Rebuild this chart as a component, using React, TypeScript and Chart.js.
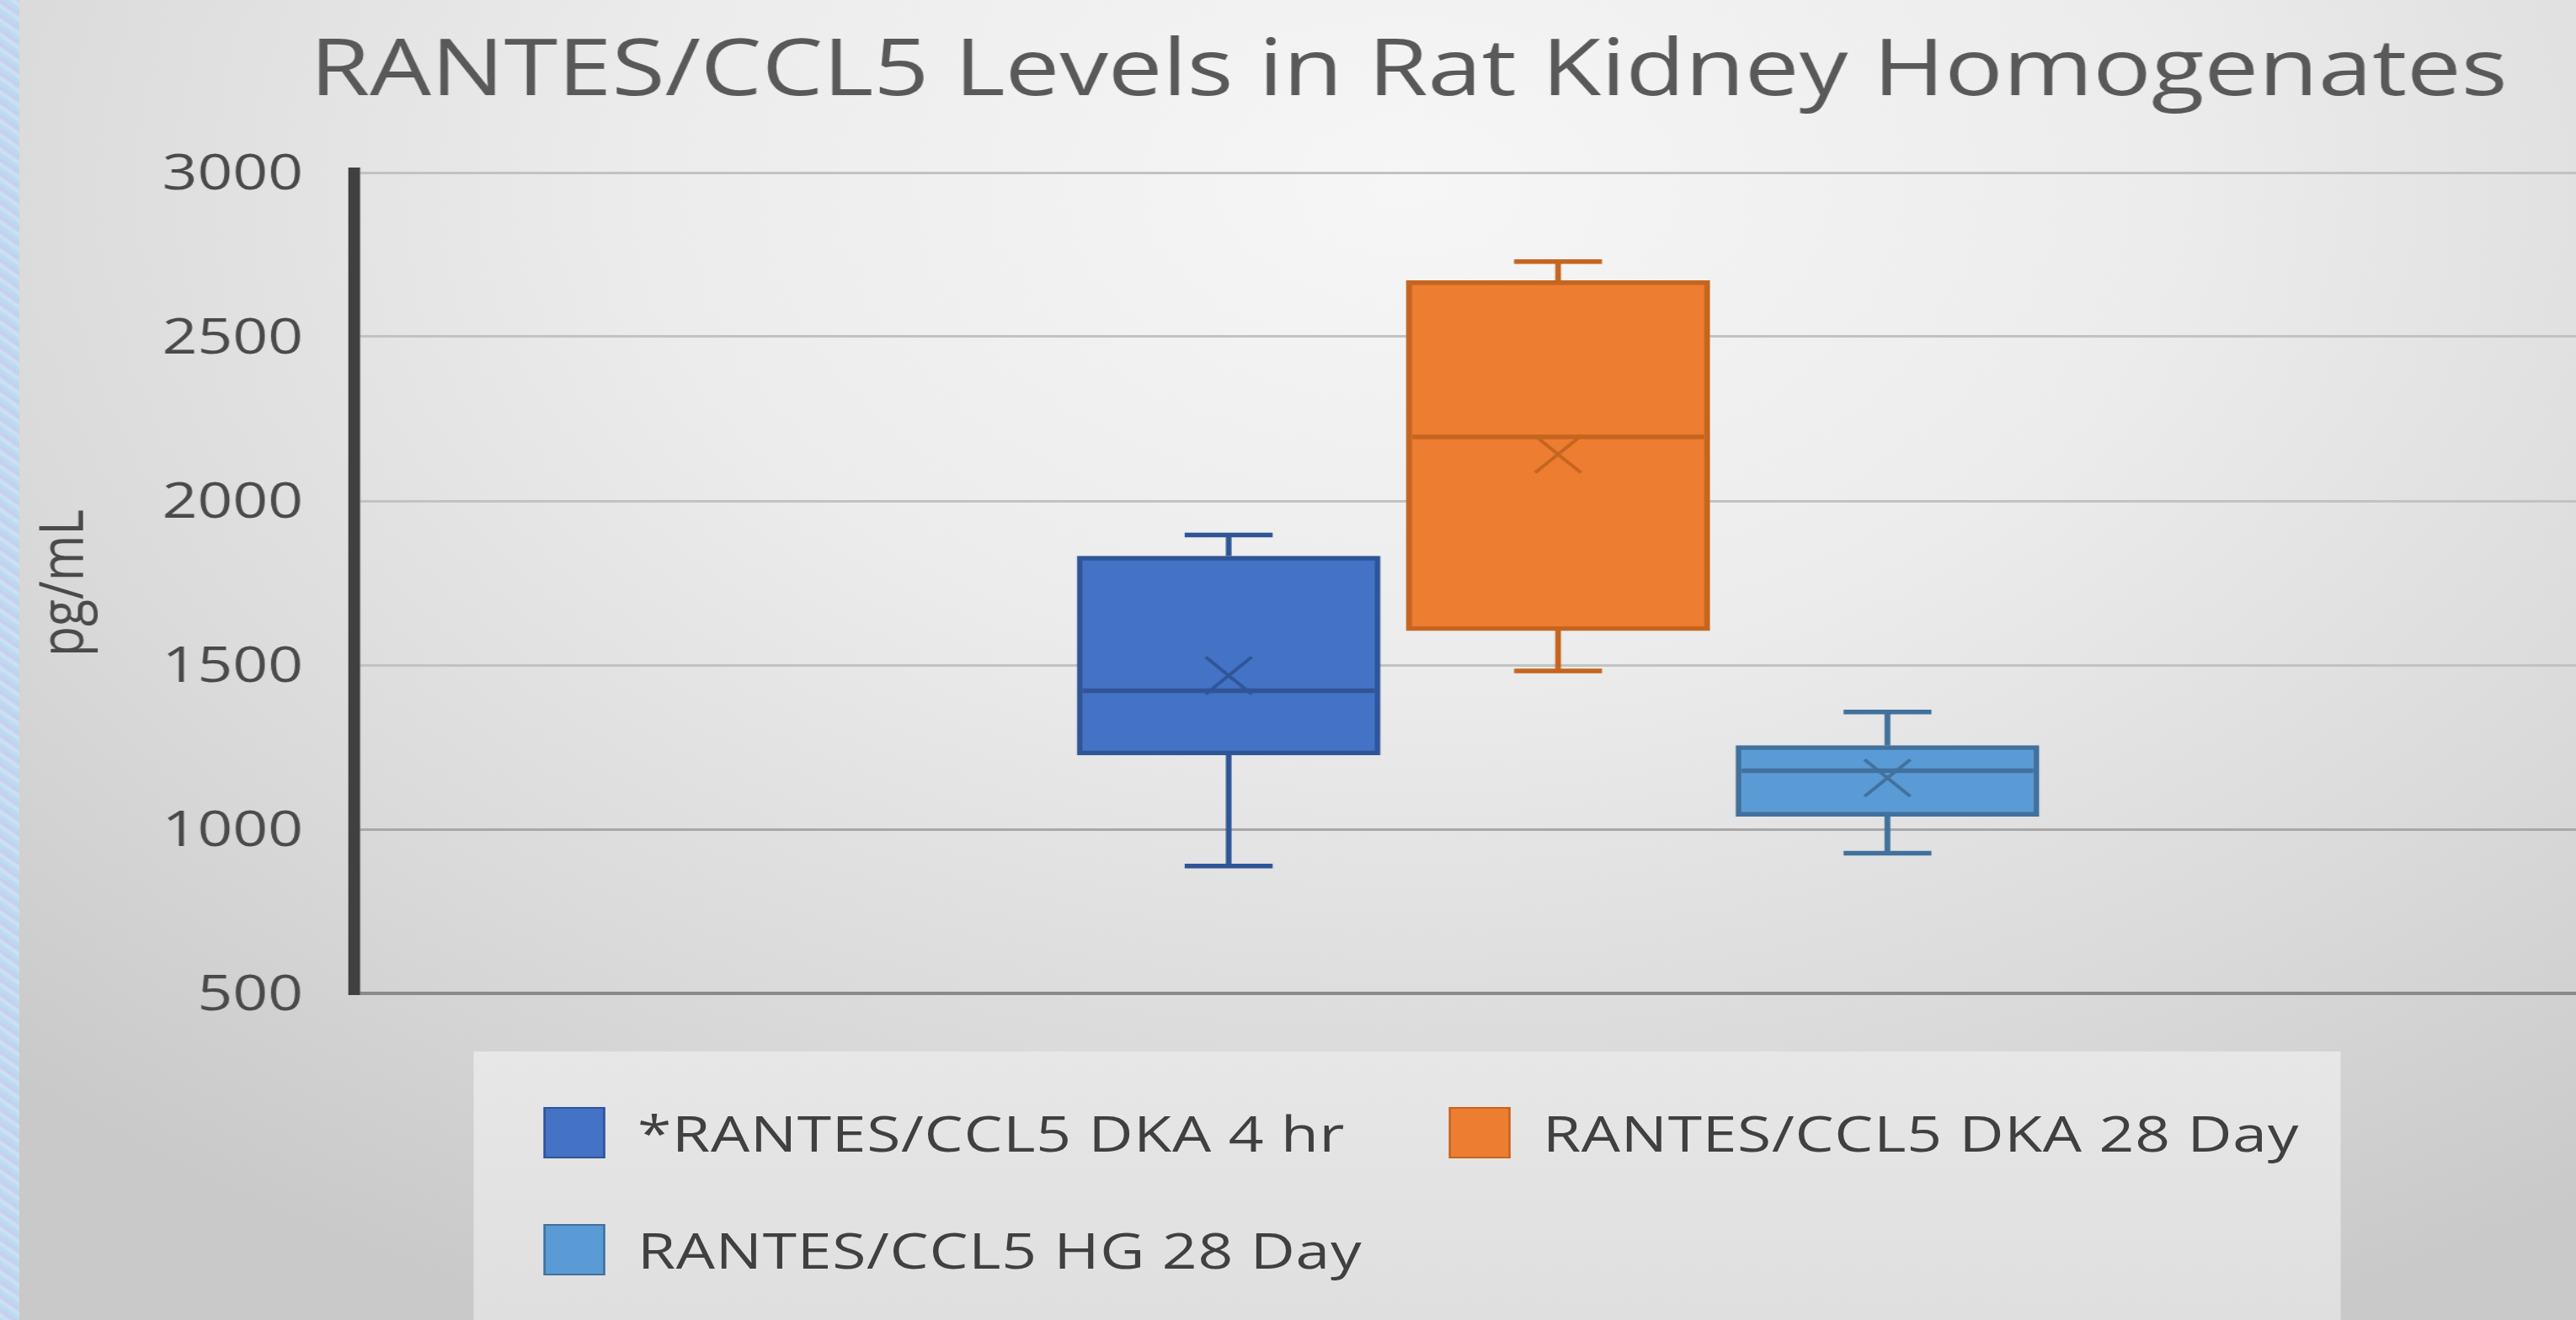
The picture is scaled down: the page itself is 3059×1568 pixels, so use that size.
import React, { useEffect, useRef } from 'react';
import { Chart, registerables } from 'chart.js';

Chart.register(...registerables);

// ---------- data ----------
const TITLE = 'RANTES/CCL5 Levels in Rat Kidney Homogenates';
const Y_TITLE = 'pg/mL';
const SERIES = ['*RANTES/CCL5 DKA 4 hr', 'RANTES/CCL5 DKA 28 Day', 'RANTES/CCL5 HG 28 Day'];
const MINS = [888, 1482, 927];
const Q1S = [1226, 1605, 1039];
const MEDIANS = [1422, 2195, 1178];
const Q3S = [1832, 2671, 1255];
const MAXS = [1896, 2729, 1357];
const MEANS = [1468, 2142, 1156];
const Y_TICKS = [500, 1000, 1500, 2000, 2500, 3000];

// ---------- styles ----------
const FILLS = ['#4472C4', '#ED7D31', '#5B9BD5'];
const LINES = ['#2F5597', '#C5651F', '#41719C'];
const FONT = "'Open Sans', 'Noto Sans', sans-serif";
const TEXT = '#4a4a4a';

// ---------- layout (page pixels) ----------
const PAGE_W = 3059;
const PAGE_H = 1568;
const S = 1.24; // the source picture is stretched horizontally
const STRIP = 23;
const CHART_W_PAGE = 3300;
const W = CHART_W_PAGE / S;
const toX = (pageX: number) => (pageX - STRIP) / S;
const AXIS_LEFT = toX(420.5);
const PLOT_TOP = 205;
const PLOT_BOTTOM = 1180;
const C1 = toX(1460);
const C3 = toX(2243);
const UNIT = (C3 - C1) / 2;
const X_MIN = 1 - (C1 - AXIS_LEFT) / UNIT;
const X_MAX = 2 + (2 - X_MIN); // symmetric about x = 2
const PLOT_RIGHT = AXIS_LEFT + (X_MAX - X_MIN) * UNIT;
const SIDE_PAD = W - PLOT_RIGHT;
const BOX_W = 360 / S;
const LW = 5.5;

const TITLE_SIZE = 93;
const TITLE_PAD_TOP = 31;
const TITLE_PAD_BOTTOM = PLOT_TOP - TITLE_PAD_TOP - TITLE_SIZE * 1.2;

const boxPlugin = {
  id: 'boxWhiskers',
  afterDatasetDraw(chart: any, args: any) {
    const meta = chart.getDatasetMeta(args.index);
    if (meta.type !== 'bar') return;
    const y = chart.scales.y;
    const ctx = chart.ctx as CanvasRenderingContext2D;
    ctx.save();
    meta.data.forEach((el: any, i: number) => {
      const { x, width } = el.getProps(['x', 'width'], true);
      const yMin = y.getPixelForValue(MINS[i]);
      const yQ1 = y.getPixelForValue(Q1S[i]);
      const yMed = y.getPixelForValue(MEDIANS[i]);
      const yQ3 = y.getPixelForValue(Q3S[i]);
      const yMax = y.getPixelForValue(MAXS[i]);
      const cap = width * 0.29;
      ctx.strokeStyle = LINES[i];
      ctx.lineWidth = LW;
      ctx.lineCap = 'butt';
      ctx.beginPath();
      ctx.moveTo(x, yQ3);
      ctx.lineTo(x, yMax);
      ctx.moveTo(x - cap / 2, yMax);
      ctx.lineTo(x + cap / 2, yMax);
      ctx.moveTo(x, yQ1);
      ctx.lineTo(x, yMin);
      ctx.moveTo(x - cap / 2, yMin);
      ctx.lineTo(x + cap / 2, yMin);
      ctx.moveTo(x - width / 2 + LW, yMed);
      ctx.lineTo(x + width / 2 - LW, yMed);
      ctx.stroke();
    });
    ctx.restore();
  },
};

export default function App() {
  const ref = useRef<HTMLCanvasElement>(null);

  useEffect(() => {
    const canvas = ref.current;
    if (!canvas) return;
    const chart = new Chart(canvas, {
      type: 'bar',
      data: {
        datasets: [
          {
            type: 'scatter',
            label: 'Mean',
            data: MEANS.map((m, i) => ({ x: i + 1, y: m })),
            pointStyle: 'crossRot',
            pointRadius: 31,
            pointBorderWidth: 3.5,
            pointBorderColor: LINES,
            pointBackgroundColor: 'rgba(0,0,0,0)',
            order: 0,
          } as any,
          {
            type: 'bar',
            label: 'Boxes',
            data: SERIES.map((_, i) => ({ x: i + 1, y: [Q1S[i], Q3S[i]] })),
            backgroundColor: FILLS,
            borderColor: LINES,
            borderWidth: LW,
            borderSkipped: false,
            barThickness: BOX_W,
            order: 1,
          } as any,
        ],
      },
      options: {
        animation: false,
        responsive: false,
        maintainAspectRatio: false,
        devicePixelRatio: 1,
        events: [],
        layout: {
          padding: { top: 0, left: SIDE_PAD, right: SIDE_PAD, bottom: PAGE_H - PLOT_BOTTOM },
        },
        plugins: {
          legend: { display: false },
          tooltip: { enabled: false },
          title: {
            display: true,
            text: TITLE,
            color: '#595959',
            font: { family: FONT, size: TITLE_SIZE, weight: 'normal', lineHeight: 1.2 },
            padding: { top: TITLE_PAD_TOP, bottom: TITLE_PAD_BOTTOM },
          },
        },
        scales: {
          x: {
            type: 'linear',
            display: false,
            offset: false,
            min: X_MIN,
            max: X_MAX,
            grid: { offset: false },
          },
          y: {
            type: 'linear',
            min: Y_TICKS[0],
            max: Y_TICKS[Y_TICKS.length - 1],
            afterFit: (s: any) => {
              s.width = AXIS_LEFT - SIDE_PAD;
            },
            ticks: {
              stepSize: Y_TICKS[1] - Y_TICKS[0],
              padding: AXIS_LEFT - toX(360),
              labelOffset: 3,
              color: TEXT,
              font: { family: FONT, size: 59 },
              callback: (v: any) => String(v),
            },
            grid: {
              drawTicks: false,
              color: (c: any) =>
                c.tick && c.tick.value === 500 ? '#8a8a8a' : c.tick && c.tick.value === 1000 ? '#a8a8a8' : '#c2c2c2',
              lineWidth: (c: any) => (c.tick && c.tick.value === 500 ? 4 : 3),
            },
            border: { display: true, width: 14 / S, color: '#404040' },
            title: {
              display: true,
              text: Y_TITLE,
              color: TEXT,
              font: { family: FONT, size: 59 },
              padding: { top: 9 - SIDE_PAD, bottom: 0 },
            },
          },
        },
      } as any,
      plugins: [boxPlugin],
    });
    return () => chart.destroy();
  }, []);

  const legendLeft = toX(563);
  const legendRight = toX(2780);
  const legendTop = 1249;
  const itemLeft = toX(645);
  const col2 = toX(1720);
  const boxW = (719 - 645) / S;
  const textGap = toX(757) - toX(719);

  return (
    <div
      style={{
        position: 'fixed',
        left: 0,
        top: 0,
        width: PAGE_W,
        height: PAGE_H,
        overflow: 'hidden',
        background:
          'repeating-linear-gradient(35deg, #bcd8f1 0px, #cde2f5 5px, #c7cdef 9px, #b9dcf3 14px)',
      }}
    >
      <div
        style={{
          position: 'absolute',
          left: STRIP,
          top: 0,
          width: W,
          height: PAGE_H,
          transform: `scaleX(${S})`,
          transformOrigin: '0 0',
          background:
            'radial-gradient(ellipse 72% 95% at 50% 14%, #f6f6f6 0%, #ececec 38%, #dadada 72%, #c9c9c9 100%)',
        }}
      >
        <div
          style={{
            position: 'absolute',
            left: legendLeft,
            top: legendTop,
            width: legendRight - legendLeft,
            height: PAGE_H - legendTop,
            boxSizing: 'border-box',
            background: 'linear-gradient(#e7e7e7, #dfdfdf)',
            paddingLeft: itemLeft - legendLeft,
            paddingTop: 1315 - legendTop,
            display: 'grid',
            gridTemplateColumns: `${col2 - itemLeft}px auto`,
            rowGap: 139 - 61,
            alignContent: 'start',
          }}
        >
          {SERIES.map((name, i) => (
            <div key={name} style={{ display: 'flex', alignItems: 'flex-start', height: 61 }}>
              <span
                style={{
                  display: 'block',
                  flex: 'none',
                  width: boxW,
                  height: 61,
                  boxSizing: 'border-box',
                  background: FILLS[i],
                  border: `2px solid ${LINES[i]}`,
                }}
              />
              <span
                style={{
                  display: 'block',
                  marginLeft: textGap,
                  fontFamily: FONT,
                  fontSize: 59,
                  letterSpacing: '0.6px',
                  lineHeight: '61px',
                  color: '#404040',
                  whiteSpace: 'nowrap',
                }}
              >
                {name}
              </span>
            </div>
          ))}
        </div>
        <canvas
          ref={ref}
          width={Math.round(W)}
          height={PAGE_H}
          style={{ position: 'absolute', left: 0, top: 0, width: Math.round(W), height: PAGE_H, display: 'block' }}
        />
      </div>
    </div>
  );
}
